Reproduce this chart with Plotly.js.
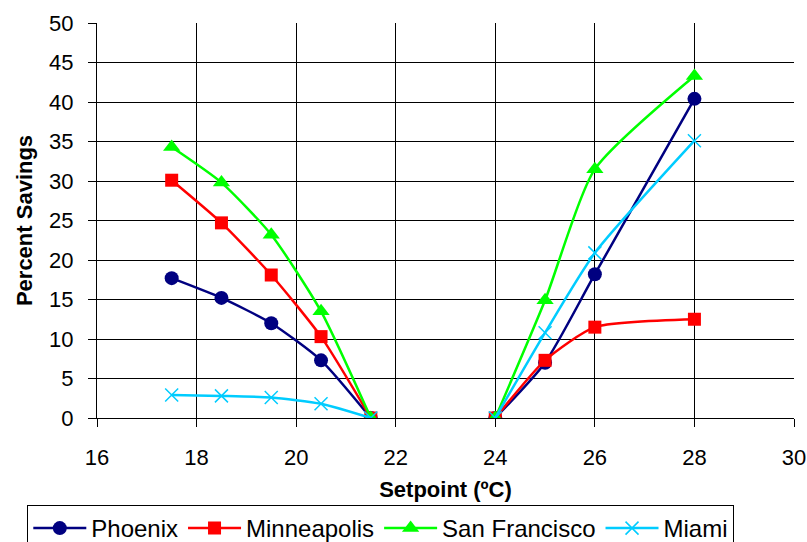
<!DOCTYPE html>
<html>
<head>
<meta charset="utf-8">
<script src="https://cdn.plot.ly/plotly-3.0.1.min.js"></script>
<style>html,body{margin:0;padding:0;background:#fff;}#chart{width:807px;height:542px;}</style>
</head>
<body>
<div id="chart"></div>
<script>
const setpoints = [17.5, 18.5, 19.5, 20.5, 21.5, null, 24, 25, 26, 28];
const phoenix = [17.7, 15.2, 12.0, 7.3, 0, null, 0, 7.0, 18.2, 40.4];
const minneapolis = [30.1, 24.7, 18.1, 10.3, 0, null, 0, 7.3, 11.5, 12.5];
const sanFrancisco = [34.3, 29.8, 23.2, 13.5, 0, null, 0, 14.9, 31.5, 43.3];
const miami = [2.9, 2.8, 2.6, 1.8, 0, null, 0, 10.8, 20.9, 35.1];
const xTicks = [16, 18, 20, 22, 24, 26, 28, 30];
const yTicks = [0, 5, 10, 15, 20, 25, 30, 35, 40, 45, 50];

function series(name, y, color, symbol, size, lw) {
  return {
    x: setpoints, y: y, name: name, type: 'scatter', mode: 'lines+markers',
    connectgaps: false,
    line: {color: color, width: lw, shape: 'spline', smoothing: 0.6},
    marker: {color: color, symbol: symbol, size: size, line: {color: color, width: symbol === 'x-thin' ? 1.5 : 0}}
  };
}
const data = [
  series('Phoenix', phoenix, '#000080', 'circle', 14, 2.5),
  series('Minneapolis', minneapolis, '#FF0000', 'square', 13, 2.5),
  series('San Francisco', sanFrancisco, '#00FF00', 'triangle-up', 15, 2.5),
  series('Miami', miami, '#00CCFF', 'x-thin', 13, 2.5)
];
const font = {family: 'Liberation Sans, Arial, sans-serif', color: '#000'};
const F = (s) => Object.assign({size: s}, font);
const layout = {
  width: 807, height: 542,
  margin: {l: 97, r: 13, t: 23, b: 124, autoexpand: false},
  paper_bgcolor: '#fff', plot_bgcolor: '#fff',
  font: F(22),
  showlegend: true,
  legend: {
    orientation: 'h', x: -0.1, xanchor: 'left', y: -0.2203, yanchor: 'top',
    bordercolor: '#000', borderwidth: 1, font: F(24),
    traceorder: 'normal', itemwidth: 53
  },
  xaxis: {
    range: [16, 30], tickvals: xTicks, ticktext: xTicks.map(String),
    showgrid: true, gridcolor: '#000', gridwidth: 1,
    showline: true, linecolor: '#000', linewidth: 1,
    ticks: 'outside', ticklen: 8, tickcolor: '#000',
    zeroline: false, tickfont: F(22), automargin: false, ticklabelstandoff: 12,
    title: {text: '<b>Setpoint (ºC)</b>', font: F(22), standoff: 12}
  },
  yaxis: {
    range: [0, 50], tickvals: yTicks, ticktext: yTicks.map(String),
    showgrid: true, gridcolor: '#000', gridwidth: 1,
    showline: true, linecolor: '#000', linewidth: 1,
    ticks: 'outside', ticklen: 8, tickcolor: '#000',
    zeroline: false, tickfont: F(22), automargin: false, ticklabelstandoff: 10,
    title: {text: '<b>Percent Savings</b>', font: F(22), standoff: 10}
  }
};
Plotly.newPlot('chart', data, layout, {displayModeBar: false, staticPlot: true});
</script>
</body>
</html>
